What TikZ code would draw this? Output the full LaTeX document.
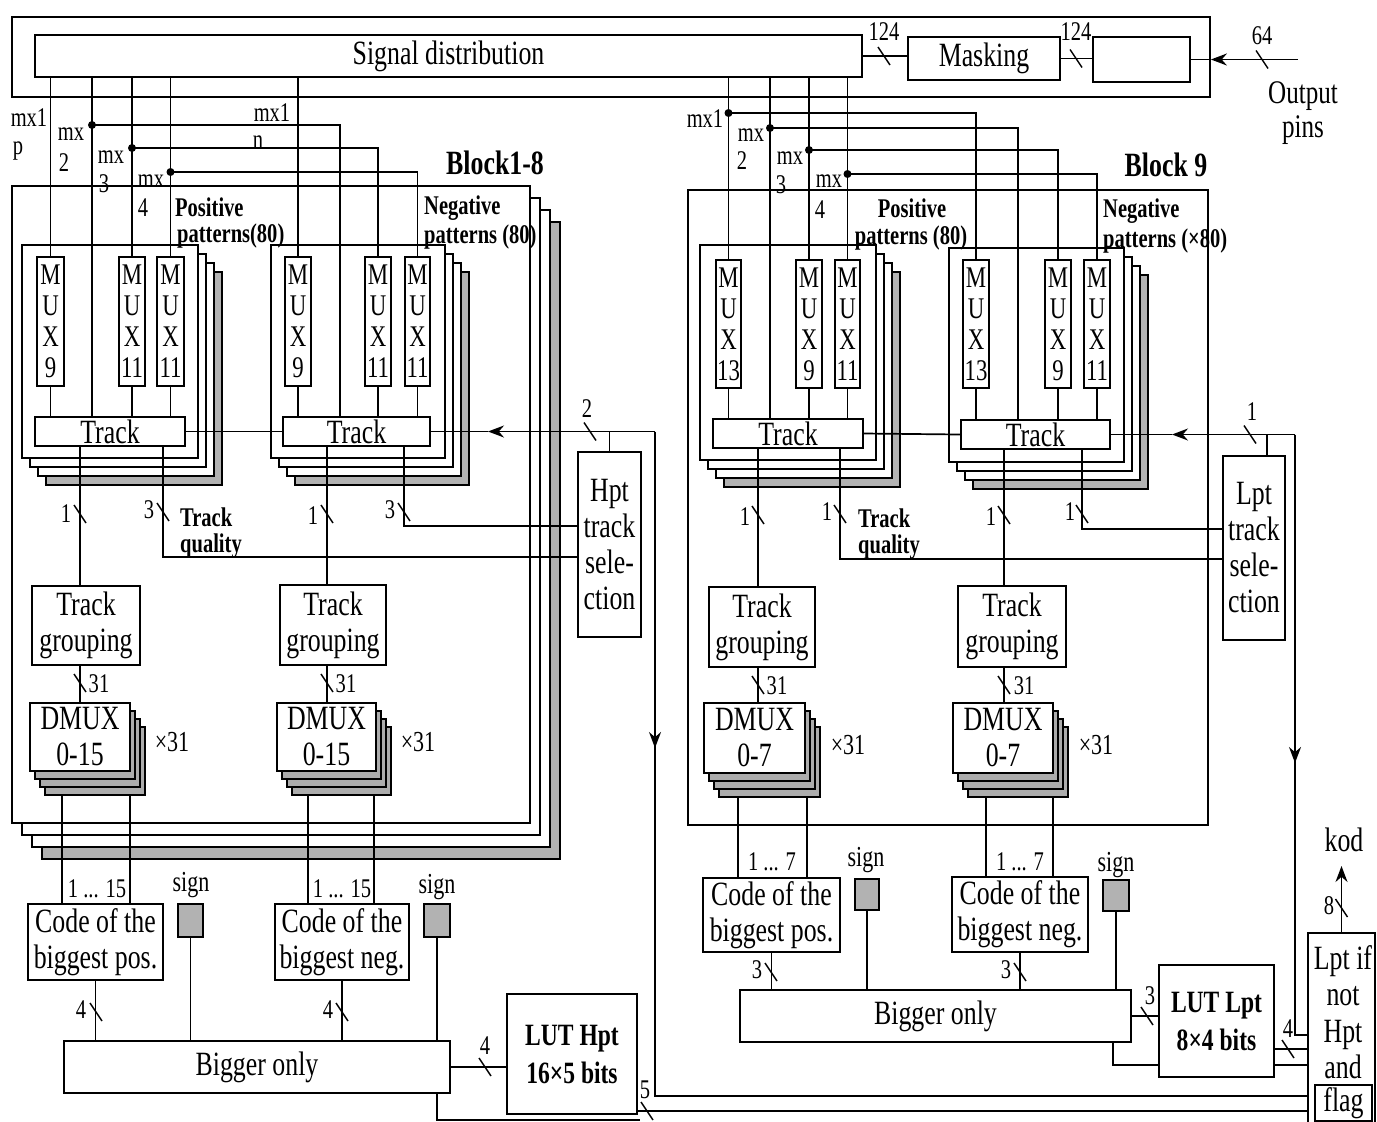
\documentclass[tikz,border=0pt]{standalone}
\usepackage{fontspec}
\setmainfont{Liberation Serif}[FakeStretch=0.76]
\usetikzlibrary{arrows.meta,fit}
\tikzset{
  box/.style={draw,line width=1.7pt,fill=white,inner sep=0pt,align=center,font=\fontsize{34}{36}\selectfont},
  muxf/.style={font=\fontsize{30}{31}\selectfont},
  lutf/.style={font=\bfseries\fontsize{31}{38}\selectfont},
  blkframe/.style={draw,line width=1.8pt,fill=white},
  shadebox/.style={draw,line width=1.8pt,fill=gray!60},
  dmcopy/.style={draw,line width=1.4pt,fill=gray!65},
  signbox/.style={draw,line width=1.4pt,fill=gray!60,inner sep=0pt},
  wire/.style={line width=1.7pt},
  arr/.style={-{Stealth[length=16pt,width=12pt]}},
  lab/.style={inner sep=0pt,font=\fontsize{27}{28}\selectfont},
  blab/.style={inner sep=0pt,font=\bfseries\fontsize{27}{28}\selectfont},
  bigt/.style={inner sep=0pt,align=center,font=\fontsize{34}{36}\selectfont},
  jdot/.style={circle,fill=black,inner sep=0pt,minimum size=8pt},
  sl/.pic={\draw[line width=1.4pt] (-6,-9) -- (6,9);},
}
\newcommand\bx[7][]{\node[box,#1,minimum width={#5-#3},minimum height={#6-#4}] (#2) at ({(#3+#5)/2},{(#4+#6)/2}) {#7};}
\newcommand\stk[7]{%
  \foreach \kk/\stl in {3/shadebox,2/blkframe,1/blkframe}{\draw[\stl] ({#2+\kk*#6},{#3+\kk*#7}) rectangle ({#4+\kk*#6},{#5+\kk*#7});}
  \node[blkframe,inner sep=0pt,minimum width={#4-#2},minimum height={#5-#3}] (#1) at ({(#2+#4)/2},{(#3+#5)/2}) {};}
\newcommand\dm[6]{%
  \foreach \kk in {3,2,1}{\draw[dmcopy] ({#2+\kk*5},{#3+\kk*8}) rectangle ({#4+\kk*5},{#5+\kk*8});}
  \bx{#1}{#2}{#3}{#4}{#5}{#6}}
\begin{document}
\begin{tikzpicture}[x=1pt,y=-1pt]
\useasboundingbox (0,0) rectangle (1377,1122);
% ---------- frames ----------
\node[draw,line width=1.8pt,inner sep=0pt,minimum width=1198,minimum height=80] (topfr) at (611,57) {};
\stk{blk1}{12}{186}{530}{823}{10}{12}
\node[blkframe,inner sep=0pt,minimum width=520,minimum height=635] (blk9) at (948,507.5) {};
\stk{pp1}{22}{245}{198}{458}{8}{9}
\stk{np1}{271}{245}{445}{458}{8}{9}
\stk{pp9}{700}{245}{876}{460}{8}{9}
\stk{np9}{949}{248}{1124}{462}{8}{9}
% ---------- top boxes ----------
\bx{sd}{35}{35}{862}{77}{Signal distribution}
\bx{mask}{908}{37}{1060}{80}{Masking}
\bx{obox}{1093}{37}{1190}{82}{}
% ---------- MUX and Track ----------
\bx[muxf]{m1}{37}{257}{64}{386}{M\\U\\X\\9}
\bx[muxf]{m2}{119}{257}{145}{386}{M\\U\\X\\11}
\bx[muxf]{m3}{157}{257}{184}{386}{M\\U\\X\\11}
\bx{t1}{35}{417}{185}{446}{Track}
\bx[muxf]{m4}{285}{257}{311}{386}{M\\U\\X\\9}
\bx[muxf]{m5}{365}{257}{391}{386}{M\\U\\X\\11}
\bx[muxf]{m6}{405}{257}{430}{386}{M\\U\\X\\11}
\bx{t2}{283}{417}{430}{446}{Track}
\bx[muxf]{r1}{716}{260}{741}{388}{M\\U\\X\\13}
\bx[muxf]{r2}{796}{260}{822}{388}{M\\U\\X\\9}
\bx[muxf]{r3}{835}{260}{860}{388}{M\\U\\X\\11}
\bx{t3}{713}{419}{863}{448}{Track}
\bx[muxf]{r4}{963}{260}{989}{388}{M\\U\\X\\13}
\bx[muxf]{r5}{1045}{260}{1071}{388}{M\\U\\X\\9}
\bx[muxf]{r6}{1084}{260}{1110}{388}{M\\U\\X\\11}
\bx{t4}{961}{420}{1110}{449}{Track}
% ---------- selection ----------
\bx{hs}{578}{452}{641}{637}{Hpt\\track\\sele-\\ction}
\bx{ls}{1223}{456}{1285}{640}{Lpt\\track\\sele-\\ction}
% ---------- grouping ----------
\bx{tg1}{32}{586}{140}{665}{Track\\grouping}
\bx{tg2}{280}{585}{386}{665}{Track\\grouping}
\bx{tg3}{709}{587}{815}{667}{Track\\grouping}
\bx{tg4}{958}{586}{1066}{667}{Track\\grouping}
% ---------- DMUX ----------
\dm{d1}{30}{703}{130}{771}{DMUX\\0-15}
\dm{d2}{277}{703}{376}{771}{DMUX\\0-15}
\dm{d3}{704}{703}{805}{773}{DMUX\\0-7}
\dm{d4}{953}{703}{1053}{773}{DMUX\\0-7}
% ---------- code / sign ----------
\bx{c1}{28}{904}{163}{980}{Code of the\\biggest pos.}
\bx{c2}{275}{904}{409}{980}{Code of the\\biggest neg.}
\bx{c3}{703}{878}{840}{952}{Code of the\\biggest pos.}
\bx{c4}{952}{877}{1088}{952}{Code of the\\biggest neg.}
\bx[signbox]{s1}{178}{904}{203}{937}{}
\bx[signbox]{s2}{424}{904}{450}{937}{}
\bx[signbox]{s3}{855}{879}{879}{910}{}
\bx[signbox]{s4}{1103}{880}{1129}{911}{}
\bx{bo1}{64}{1041}{450}{1093}{Bigger only}
\bx{bo2}{740}{990}{1131}{1042}{Bigger only}
\bx[lutf]{luth}{507}{994}{637}{1114}{LUT Hpt\\16×5 bits}
\bx[lutf]{lutl}{1159}{965}{1274}{1077}{LUT Lpt\\8×4 bits}
\bx{lp}{1308}{933}{1375}{1128}{}
\node[bigt,font=\fontsize{34}{36.5}\selectfont] (lptxt) at (1343,1012) {Lpt if\\not\\Hpt\\and};
\bx{flag}{1315}{1085}{1372}{1121}{flag}
% ---------- top wires ----------
\draw[wire] (sd.east) -- (sd.east -| mask.west);
\pic at (884,56) {sl};
\node[lab] (n124a) at (884,32) {124};
\draw[wire] (mask.east) -- (mask.east -| obox.west);
\pic at (1076,58.5) {sl};
\node[lab] (n124b) at (1076,32) {124};
\coordinate (opin) at (1298,59.5);
\draw[wire,arr] (opin) -- (opin -| topfr.east);
\draw[wire] (opin -| topfr.east) -- (obox.east);
\pic at (1262,59.5) {sl};
\node[lab] (n64) at (1262,36) {64};
\node[bigt,font=\fontsize{33}{34}\selectfont] (outp) at (1303,113) {Output\\pins};
% ---------- signal wires, left ----------
\coordinate (L2) at (92,125);
\coordinate (Ln2) at (340,125);
\coordinate (L3) at (132,148);
\coordinate (L4) at (170.5,172);
\draw[wire] (sd.south -| m1.north) -- (m1.north);
\draw[wire] (sd.south -| L2) -- (t1.north -| L2);
\draw[wire] (sd.south -| m2.north) -- (m2.north);
\draw[wire] (sd.south -| m3.north) -- (m3.north);
\draw[wire] (sd.south -| m4.north) -- (m4.north);
\draw[wire] (L2) -- (Ln2) -- (t2.north -| Ln2);
\draw[wire] (L3) -| (m5.north);
\draw[wire] (L4) -| (m6.north);
% ---------- signal wires, right ----------
\coordinate (R1) at (728.5,113);
\coordinate (R2) at (770,128);
\coordinate (Rn2) at (1018,128);
\coordinate (R3) at (809,150);
\coordinate (R4) at (847.5,174);
\draw[wire] (sd.south -| r1.north) -- (r1.north);
\draw[wire] (R1) -| (r4.north);
\draw[wire] (sd.south -| R2) -- (t3.north -| R2);
\draw[wire] (R2) -- (Rn2) -- (t4.north -| Rn2);
\draw[wire] (sd.south -| r2.north) -- (r2.north);
\draw[wire] (R3) -| (r5.north);
\draw[wire] (sd.south -| r3.north) -- (r3.north);
\draw[wire] (R4) -| (r6.north);
\foreach \pp in {L2,L3,L4,R1,R2,R3,R4} \node[jdot] (dot\pp) at (\pp) {};
\foreach \mA/\tA in {m1/t1,m2/t1,m3/t1,m4/t2,m5/t2,m6/t2,r1/t3,r2/t3,r3/t3,r4/t4,r5/t4,r6/t4}
  \draw[wire] (\mA.south) -- (\mA.south |- \tA.north);
\draw[wire] (t1.east) -- (t2.west);
\draw[wire] (t3.east) -- (t4.west);
% ---------- Hpt selection ----------
\coordinate (hc) at (655,431.5);
\coordinate (ha) at (488,431.5);
\coordinate (hb) at (655,1096);
\draw[wire,arr] (hc) -- (ha);
\draw[wire] (ha) -- (t2.east);
\draw[wire] (hs.north) -- (hs.north |- hc);
\pic at (590,431.5) {sl};
\node[lab] (n2) at (587,409) {2};
\draw[wire] (hc) -- (hb) -- (hb -| lp.west);
\coordinate (hd1) at (655,700);
\coordinate (hd2) at (655,748);
\draw[wire,arr] (hd1) -- (hd2);
% ---------- Lpt selection ----------
\coordinate (lc) at (1295,434.5);
\coordinate (la) at (1172,434.5);
\coordinate (lb) at (1295,1035);
\coordinate (lsn) at (1267,0);
\draw[wire,arr] (lc) -- (la);
\draw[wire] (la) -- (t4.east);
\draw[wire] (ls.north -| lsn) -- (lc -| lsn);
\pic at (1250,434.5) {sl};
\node[lab] (n1l) at (1252,412) {1};
\draw[wire] (lc) -- (lb) -- (lb -| lp.west);
\coordinate (ld1) at (1295,715);
\coordinate (ld2) at (1295,763);
\draw[wire,arr] (ld1) -- (ld2);
% ---------- quality ----------
\coordinate (q1) at (163,557);
\coordinate (q2) at (404,526);
\coordinate (q3) at (840,559);
\coordinate (q4) at (1082,529);
\draw[wire] (t1.south -| q1) -- (q1) -- (q1 -| hs.west);
\draw[wire] (t2.south -| q2) -- (q2) -- (q2 -| hs.west);
\draw[wire] (t3.south -| q3) -- (q3) -- (q3 -| ls.west);
\draw[wire] (t4.south -| q4) -- (q4) -- (q4 -| ls.west);
\pic at (163,512) {sl}; \node[lab] (nq1) at (149,510) {3};
\pic at (404,512) {sl}; \node[lab] (nq2) at (390,510) {3};
\pic at (840,514) {sl}; \node[lab] (nq3) at (827,512) {1};
\pic at (1082,514) {sl}; \node[lab] (nq4) at (1070,512) {1};
\node[blab,anchor=west] (tq1) at (180,517) {Track};
\node[blab,anchor=west] (tq1b) at (180,546) {quality};
\node[blab,anchor=west] (tq2) at (858,518) {Track};
\node[blab,anchor=west] (tq2b) at (858,547) {quality};
% ---------- grouping wires ----------
\coordinate (g1) at (80,0);
\coordinate (g2) at (327,0);
\coordinate (g3) at (758,0);
\coordinate (g4) at (1004,0);
\draw[wire] (t1.south -| g1) -- (tg1.north -| g1);
\draw[wire] (tg1.south -| g1) -- (d1.north -| g1);
\draw[wire] (t2.south -| g2) -- (tg2.north -| g2);
\draw[wire] (tg2.south -| g2) -- (d2.north -| g2);
\draw[wire] (t3.south -| g3) -- (tg3.north -| g3);
\draw[wire] (tg3.south -| g3) -- (d3.north -| g3);
\draw[wire] (t4.south -| g4) -- (tg4.north -| g4);
\draw[wire] (tg4.south -| g4) -- (d4.north -| g4);
\pic at (80,514) {sl}; \node[lab] (ng1) at (66,514) {1};
\pic at (327,514) {sl}; \node[lab] (ng2) at (313,516) {1};
\pic at (758,515) {sl}; \node[lab] (ng3) at (745,517) {1};
\pic at (1004,515) {sl}; \node[lab] (ng4) at (991,517) {1};
\pic at (80,683) {sl}; \node[lab] (nd1) at (99,684) {31};
\pic at (327,683) {sl}; \node[lab] (nd2) at (346,684) {31};
\pic at (758,685) {sl}; \node[lab] (nd3) at (777,686) {31};
\pic at (1004,685) {sl}; \node[lab] (nd4) at (1024,686) {31};
\node[lab,font=\fontsize{29}{30}\selectfont] (x1) at (172,742) {×31};
\node[lab,font=\fontsize{29}{30}\selectfont] (x2) at (418,742) {×31};
\node[lab,font=\fontsize{29}{30}\selectfont] (x3) at (848,745) {×31};
\node[lab,font=\fontsize{29}{30}\selectfont] (x4) at (1096,745) {×31};
% ---------- DMUX to code ----------
\coordinate (e1) at (62,795);
\coordinate (e2) at (130,795);
\coordinate (e3) at (308,795);
\coordinate (e4) at (374,795);
\coordinate (e5) at (738,797);
\coordinate (e6) at (807,797);
\coordinate (e7) at (986,797);
\coordinate (e8) at (1053,797);
\draw[wire] (c1.north -| e1) -- (e1);
\draw[wire] (c1.north -| e2) -- (e2);
\draw[wire] (c2.north -| e3) -- (e3);
\draw[wire] (c2.north -| e4) -- (e4);
\draw[wire] (c3.north -| e5) -- (e5);
\draw[wire] (c3.north -| e6) -- (e6);
\draw[wire] (c4.north -| e7) -- (e7);
\draw[wire] (c4.north -| e8) -- (e8);
\node[lab] (r15a) at (97,889) {1 ... 15};
\node[lab] (r15b) at (342,889) {1 ... 15};
\node[lab] (r7a) at (772,862) {1 ... 7};
\node[lab] (r7b) at (1020,862) {1 ... 7};
\node[lab,font=\fontsize{29}{30}\selectfont] (sg1) at (191,885) {sign};
\node[lab,font=\fontsize{29}{30}\selectfont] (sg2) at (437,887) {sign};
\node[lab,font=\fontsize{29}{30}\selectfont] (sg3) at (866,860) {sign};
\node[lab,font=\fontsize{29}{30}\selectfont] (sg4) at (1116,865) {sign};
% ---------- code to bigger ----------
\draw[wire] (c1.south) -- (c1.south |- bo1.north);
\draw[wire] (s1.south) -- (s1.south |- bo1.north);
\draw[wire] (c2.south) -- (c2.south |- bo1.north);
\draw[wire] (s2.south) -- (s2.south |- bo1.north);
\draw[wire] (c3.south) -- (c3.south |- bo2.north);
\draw[wire] (s3.south) -- (s3.south |- bo2.north);
\draw[wire] (c4.south) -- (c4.south |- bo2.north);
\draw[wire] (s4.south) -- (s4.south |- bo2.north);
\pic at (96,1012) {sl}; \node[lab] (nb1) at (81,1010) {4};
\pic at (342,1012) {sl}; \node[lab] (nb2) at (328,1010) {4};
\pic at (771,972) {sl}; \node[lab] (nb3) at (757,970) {3};
\pic at (1020,972) {sl}; \node[lab] (nb4) at (1006,970) {3};
% ---------- bigger to LUT ----------
\draw[wire] (bo1.east) -- (bo1.east -| luth.west);
\pic at (485,1067) {sl}; \node[lab] (nl1) at (485,1046) {4};
\draw[wire] (bo2.east) -- (bo2.east -| lutl.west);
\pic at (1147,1016) {sl}; \node[lab] (nl2) at (1150,996) {3};
\coordinate (fb1) at (437,1120);
\coordinate (fb2) at (640,1120);
\draw[wire] (bo1.south -| fb1) -- (fb1) -- (fb2);
\coordinate (fb3) at (1113,1065);
\draw[wire] (bo2.south -| fb3) -- (fb3) -- (fb3 -| lutl.west);
% ---------- LUT outputs ----------
\coordinate (h5) at (637,1111);
\draw[wire] (h5) -- (h5 -| lp.west);
\pic at (647,1111) {sl}; \node[lab] (n5) at (645,1090) {5};
\coordinate (o4) at (1274,1049);
\coordinate (o5) at (1274,1065);
\draw[wire] (o4) -- (o4 -| lp.west);
\draw[wire] (o5) -- (o5 -| lp.west);
\pic at (1288,1049) {sl}; \node[lab] (n4) at (1288,1029) {4};
% ---------- kod ----------
\node[bigt] (kod) at (1344,840) {kod};
\coordinate (kt) at (1341.5,866);
\draw[wire,arr] (lp.north) -- (kt);
\pic at (1341.5,908) {sl}; \node[lab] (n8) at (1329,906) {8};
% ---------- labels ----------
\node[lab] (lmx1p) at (29,118) {mx1};
\node[lab] (lp1) at (18,151) {p};
\node[lab] (lmx2) at (71,134) {mx};
\node[lab] (l2) at (64,163) {2};
\node[lab] (lmx3) at (111,157) {mx};
\node[lab] (l3) at (104,184) {3};
\node[lab] (lmx4) at (151,181) {mx};
\node[lab] (l4) at (143,208) {4};
\node[lab] (lmx1n) at (272,113) {mx1};
\node[lab] (ln1) at (258,142) {n};
\node[lab] (rmx1) at (705,119) {mx1};
\node[lab] (rmx2) at (751,135) {mx};
\node[lab] (r2l) at (742,161) {2};
\node[lab] (rmx3) at (790,158) {mx};
\node[lab] (r3l) at (781,185) {3};
\node[lab] (rmx4) at (829,181) {mx};
\node[lab] (r4l) at (820,210) {4};
\node[blab,font=\bfseries\fontsize{34}{36}\selectfont] (bl1) at (495,163) {Block1-8};
\node[blab,font=\bfseries\fontsize{34}{36}\selectfont] (bl9) at (1166,165) {Block 9};
\node[blab,anchor=west] (pos1) at (175,207) {Positive};
\node[blab,anchor=west] (pos1b) at (177,236) {patterns(80)};
\node[blab,anchor=west] (neg1) at (424,208) {Negative};
\node[blab,anchor=west] (neg1b) at (424,237) {patterns (80)};
\node[blab] (pos9) at (912,208) {Positive};
\node[blab] (pos9b) at (911,238) {patterns (80)};
\node[blab,anchor=west] (neg9) at (1103,211) {Negative};
\node[blab,anchor=west] (neg9b) at (1103,241) {patterns (×80)};
\end{tikzpicture}
\end{document}
